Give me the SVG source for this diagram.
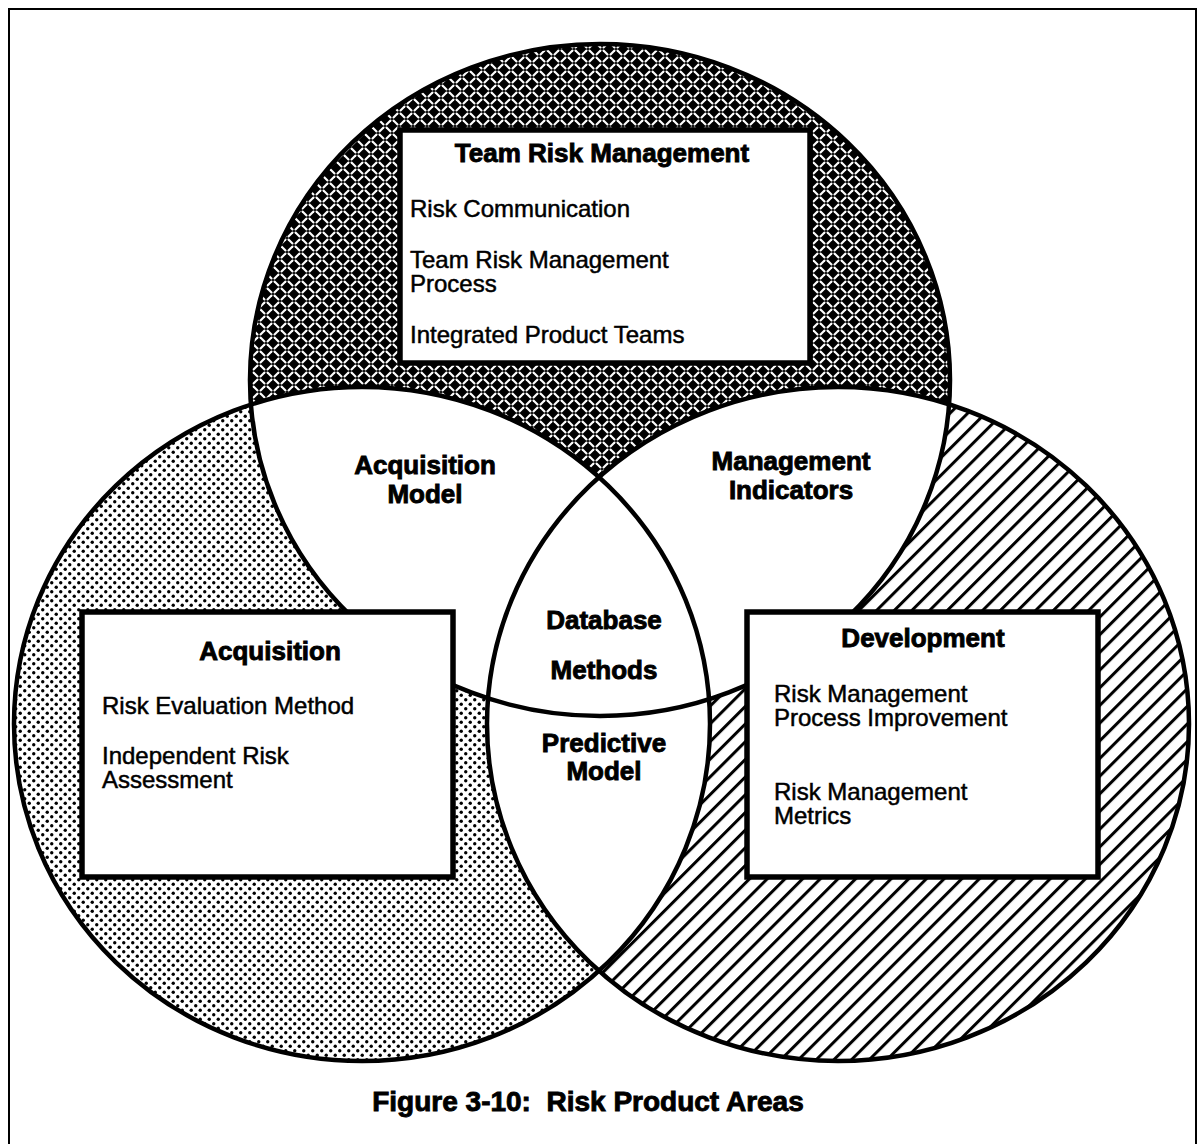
<svg xmlns="http://www.w3.org/2000/svg" width="1202" height="1144" viewBox="0 0 1202 1144">
<style>
.txt{font-family:"Liberation Sans",Arial,Helvetica,sans-serif;font-size:24px;fill:#000;stroke:#000;stroke-width:0.5}
.bold{font-weight:bold;font-size:26px;stroke-width:0.9}
.mid{text-anchor:middle}
.outline{fill:none;stroke:#000;stroke-width:4.5}
.box{fill:#fff;stroke:#000;stroke-width:5.5}
</style>
<defs>
<pattern id="plate" width="14" height="14" patternUnits="userSpaceOnUse">
<rect width="14" height="14" fill="#000"/>
<g stroke="#fff" stroke-width="2.1" stroke-linecap="round">
<line x1="1.5" y1="5.5" x2="5.5" y2="1.5"/>
<line x1="8.5" y1="1.5" x2="12.5" y2="5.5"/>
<line x1="1.5" y1="8.5" x2="5.5" y2="12.5"/>
<line x1="8.5" y1="12.5" x2="12.5" y2="8.5"/>
</g>
</pattern>
<pattern id="dots" width="9" height="9" patternUnits="userSpaceOnUse">
<rect width="9" height="9" fill="#fff"/>
<circle cx="2.25" cy="2.25" r="1.7" fill="#000"/>
<circle cx="6.75" cy="6.75" r="1.7" fill="#000"/>
</pattern>
<pattern id="hatch" width="12.5" height="20" patternUnits="userSpaceOnUse" patternTransform="rotate(45)">
<rect width="12.5" height="20" fill="#fff"/>
<rect x="0" y="0" width="3" height="20" fill="#000"/>
</pattern>
<clipPath id="clipT"><ellipse cx="600" cy="380" rx="350" ry="336"/></clipPath>
<clipPath id="clipR"><ellipse cx="838" cy="724" rx="351" ry="337"/></clipPath>
</defs>

<rect x="9" y="9" width="1187" height="1150" fill="none" stroke="#000" stroke-width="2"/>

<g id="areas">
<ellipse cx="600" cy="380" rx="350" ry="336" fill="url(#plate)"/>
<ellipse cx="362" cy="724" rx="348" ry="337" fill="url(#dots)"/>
<ellipse cx="838" cy="724" rx="351" ry="337" fill="url(#hatch)"/>
<ellipse cx="362" cy="724" rx="348" ry="337" fill="#fff" clip-path="url(#clipT)"/>
<ellipse cx="362" cy="724" rx="348" ry="337" fill="#fff" clip-path="url(#clipR)"/>
<ellipse cx="838" cy="724" rx="351" ry="337" fill="#fff" clip-path="url(#clipT)"/>
</g>

<g id="connectors">
<ellipse class="outline" cx="600" cy="380" rx="350" ry="336"/>
<ellipse class="outline" cx="362" cy="724" rx="348" ry="337"/>
<ellipse class="outline" cx="838" cy="724" rx="351" ry="337"/>
</g>

<g id="team-risk-management">
<rect class="box" x="400" y="130" width="410" height="233"/>
<text class="txt bold mid" x="602" y="162">Team Risk Management</text>
<text class="txt" x="410" y="217">Risk Communication</text>
<text class="txt" x="410" y="268">Team Risk Management</text>
<text class="txt" x="410" y="292">Process</text>
<text class="txt" x="410" y="343">Integrated Product Teams</text>
</g>

<g id="acquisition">
<rect class="box" x="82" y="612" width="371" height="265"/>
<text class="txt bold mid" x="270" y="660">Acquisition</text>
<text class="txt" x="102" y="714">Risk Evaluation Method</text>
<text class="txt" x="102" y="764">Independent Risk</text>
<text class="txt" x="102" y="788">Assessment</text>
</g>

<g id="development">
<rect class="box" x="747" y="612" width="351" height="265"/>
<text class="txt bold mid" x="923" y="647">Development</text>
<text class="txt" x="774" y="702">Risk Management</text>
<text class="txt" x="774" y="726">Process Improvement</text>
<text class="txt" x="774" y="800">Risk Management</text>
<text class="txt" x="774" y="824">Metrics</text>
</g>

<g id="acquisition-model">
<text class="txt bold mid" x="425" y="474">Acquisition</text>
<text class="txt bold mid" x="425" y="503">Model</text>
</g>

<g id="management-indicators">
<text class="txt bold mid" x="791" y="470">Management</text>
<text class="txt bold mid" x="791" y="499">Indicators</text>
</g>

<g id="database-methods">
<text class="txt bold mid" x="604" y="629">Database</text>
<text class="txt bold mid" x="604" y="679">Methods</text>
</g>

<g id="predictive-model">
<text class="txt bold mid" x="604" y="752">Predictive</text>
<text class="txt bold mid" x="604" y="780">Model</text>
</g>

<g id="caption">
<text class="txt bold mid" x="588" y="1111" style="font-size:28px;white-space:pre">Figure 3-10:  Risk Product Areas</text>
</g>
</svg>
